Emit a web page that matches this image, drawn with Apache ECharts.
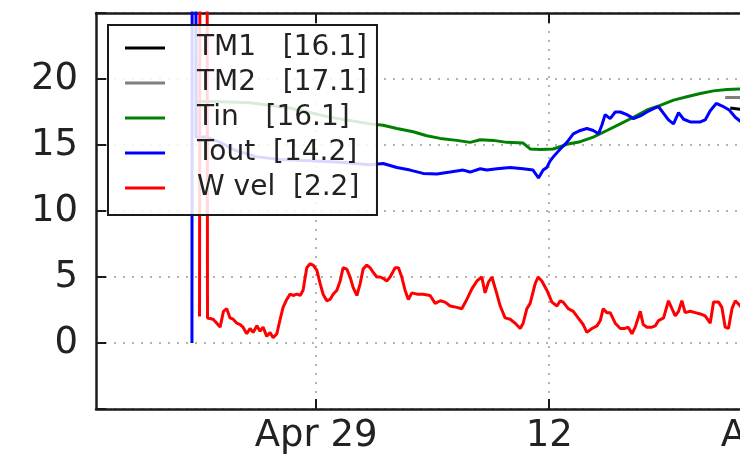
<!DOCTYPE html>
<html>
<head>
<meta charset="utf-8">
<script src="https://cdn.jsdelivr.net/npm/echarts@6/dist/echarts.min.js"></script>
<style>
html,body{margin:0;padding:0;background:#fff;overflow:hidden;}
#chart{width:740px;height:459px;}
</style>
</head>
<body>
<div id="chart"></div>
<script>
// time in hours since Apr 29 00:00
var seriesNames = ["TM1   [16.1]", "TM2   [17.1]", "Tin   [16.1]", "Tout  [14.2]", "W vel  [2.2]"];
var seriesColors = ["#000000", "#7f7f7f", "#008000", "#0000ff", "#ff0000"];
var xTickValues = [0, 12, 24];
var xTickLabels = ["Apr 29", "12", "Apr 30"];
var yTickValues = [0, 5, 10, 15, 20];

var tm1T = [21.32, 21.84, 22.35];
var tm1V = [17.8, 17.7, 17.6];
var tm2T = [21.06, 21.84, 22.35];
var tm2V = [18.6, 18.6, 18.6];

var tinT = [-6.18,-5.30,-3.40,-1.34,0.72,2.78,3.45,4.16,5.00,5.70,6.39,7.25,7.93,8.45,9.12,9.82,10.66,11.02,11.54,12.21,12.91,13.60,14.27,14.97,15.66,16.34,17.03,17.72,18.40,19.09,19.78,20.46,21.15,21.84,22.35];
var tinV = [18.3,18.3,18.2,17.8,17.1,16.6,16.5,16.25,16.0,15.7,15.5,15.35,15.2,15.4,15.35,15.2,15.15,14.7,14.65,14.7,15.05,15.25,15.6,16.1,16.6,17.1,17.65,18.0,18.4,18.65,18.9,19.1,19.2,19.25,19.3];

var toutT = [-6.39,-6.28,-6.18,-5.61,-4.94,-4.17,-3.04,-1.85,-0.31,1.24,2.78,3.45,4.16,4.84,5.51,6.22,6.90,7.57,7.93,8.45,8.79,9.31,9.99,10.66,11.17,11.45,11.69,11.88,12.05,12.21,12.57,12.91,13.24,13.60,13.94,14.27,14.54,14.71,14.88,15.14,15.40,15.66,16.00,16.34,16.69,17.03,17.37,17.63,17.89,18.14,18.40,18.66,18.92,19.26,19.78,20.03,20.29,20.60,20.91,21.27,21.58,21.84,22.15];
var toutV = [0,300,15.6,15.6,15.2,14.6,14.1,13.9,13.8,13.7,13.5,13.6,13.3,13.1,12.85,12.8,12.95,13.1,12.95,13.2,13.1,13.2,13.3,13.2,13.1,12.5,13.1,13.3,13.8,14.1,14.7,15.2,15.85,16.1,16.25,16.1,15.85,16.5,17.3,17.0,17.5,17.5,17.3,17.0,17.2,17.5,17.75,17.9,17.4,16.9,16.6,17.45,16.95,16.75,16.75,16.9,17.6,18.15,17.95,17.65,17.1,16.8,16.4];

var wvelT = [-6.00,-5.79,-5.59,-5.30,-5.11,-4.94,-4.77,-4.60,-4.43,-4.27,-4.08,-3.91,-3.76,-3.57,-3.40,-3.24,-3.05,-2.88,-2.73,-2.54,-2.37,-2.21,-2.02,-1.85,-1.70,-1.51,-1.34,-1.18,-0.99,-0.82,-0.67,-0.48,-0.31,-0.15,0.04,0.21,0.36,0.55,0.72,0.88,1.07,1.24,1.39,1.58,1.75,1.91,2.10,2.27,2.42,2.61,2.78,2.94,3.13,3.30,3.45,3.64,3.81,4.07,4.24,4.41,4.58,4.75,4.93,5.19,5.51,5.87,6.13,6.39,6.64,6.90,7.25,7.50,7.76,8.02,8.28,8.53,8.70,8.87,9.05,9.31,9.48,9.73,9.99,10.25,10.51,10.66,10.85,11.02,11.28,11.43,11.62,11.88,12.14,12.40,12.57,12.72,12.98,13.24,13.49,13.75,13.94,14.20,14.46,14.63,14.78,14.97,15.14,15.40,15.66,15.91,16.07,16.26,16.43,16.69,16.84,17.03,17.29,17.46,17.63,17.89,18.14,18.32,18.49,18.66,18.83,19.00,19.26,19.52,19.78,20.03,20.29,20.46,20.72,20.89,21.06,21.23,21.41,21.58,21.84,22.10];
var wvelV = [2.0,300,1.9,1.8,1.5,1.2,2.4,2.6,1.9,1.8,1.5,1.4,1.2,0.7,1.1,0.8,1.3,0.9,1.2,0.5,0.8,0.4,0.7,1.8,2.7,3.3,3.7,3.6,3.7,3.6,4.0,5.7,6.0,5.9,5.5,4.5,3.7,3.2,3.3,3.7,4.0,4.7,5.7,5.6,5.0,4.2,3.6,4.5,5.6,5.9,5.7,5.35,5.0,5.0,4.9,4.7,5.0,5.7,5.7,5.0,4.0,3.3,3.8,3.7,3.7,3.6,3.0,3.2,3.1,2.8,2.7,2.6,3.3,4.1,4.7,5.0,3.8,4.6,5.0,3.7,2.8,1.9,1.8,1.5,1.1,1.5,2.6,3.0,4.5,5.0,4.7,4.0,3.1,2.8,3.2,3.1,2.6,2.4,1.9,1.4,0.8,1.1,1.3,1.7,2.6,2.3,2.3,1.5,1.1,1.1,1.2,0.7,1.2,2.4,1.4,1.2,1.2,1.3,1.7,1.9,3.2,2.6,2.05,2.4,3.2,2.3,2.4,2.3,2.2,2.05,1.5,3.1,3.1,2.7,1.2,1.1,2.6,3.2,2.8,2.2];

function pairs(t, v) { return t.map(function (x, i) { return [x, v[i]]; }); }

var FONT = "DejaVu Sans";
var chart = echarts.init(document.getElementById('chart'), null, {renderer: 'canvas'});

var gridLine = {show: true, lineStyle: {color: '#9a9a9a', width: 1.5, type: [2, 7]}};
var spine = {show: true, onZero: false, lineStyle: {color: '#1a1a1a', width: 2.5}};

function mkSeries(name, data, color) {
  return {
    name: name, type: 'line', data: data, showSymbol: false, symbol: 'none',
    lineStyle: {color: color, width: 3}, itemStyle: {color: color},
    clip: true, animation: false
  };
}

chart.setOption({
  animation: false,
  backgroundColor: '#ffffff',
  grid: {left: 96, top: 13, bottom: 50, width: 696, containLabel: false, outerBoundsMode: 'none'},
  legend: {
    orient: 'vertical', left: 108, top: 25,
    padding: [8, 10, 12, 17],
    itemGap: 5, itemWidth: 40, itemHeight: 3,
    icon: 'rect',
    backgroundColor: 'rgba(255,255,255,0.85)',
    borderColor: '#1a1a1a', borderWidth: 2,
    textStyle: {fontFamily: FONT, fontSize: 28, color: '#222', lineHeight: 30, padding: [0, 0, 0, 27]},
    data: seriesNames
  },
  xAxis: [{
    type: 'value', min: -11.33, max: 24.5, position: 'bottom',
    axisLine: spine,
    axisTick: {show: true, inside: true, length: 10, lineStyle: {color: '#1a1a1a', width: 2}, customValues: xTickValues},
    axisLabel: {
      show: true, customValues: xTickValues, margin: 9,
      fontFamily: FONT, fontSize: 37, color: '#222',
      formatter: function (v) { var i = xTickValues.indexOf(v); return i >= 0 ? xTickLabels[i] : ''; }
    },
    splitLine: gridLine
  }, {
    type: 'value', min: -11.33, max: 24.5, position: 'top',
    axisLine: spine,
    axisTick: {show: true, inside: true, length: 10, lineStyle: {color: '#1a1a1a', width: 2}, customValues: xTickValues},
    axisLabel: {show: false},
    splitLine: {show: false}
  }],
  yAxis: [{
    type: 'value', min: -5, max: 25, interval: 5,
    axisLine: spine,
    axisTick: {show: true, inside: true, length: 10, lineStyle: {color: '#1a1a1a', width: 2}},
    axisLabel: {
      margin: 18, fontFamily: FONT, fontSize: 37, color: '#222',
      formatter: function (v) { return yTickValues.indexOf(v) >= 0 ? String(v) : ''; }
    },
    splitLine: gridLine
  }],
  series: [
    mkSeries(seriesNames[0], pairs(tm1T, tm1V), seriesColors[0]),
    mkSeries(seriesNames[1], pairs(tm2T, tm2V), seriesColors[1]),
    mkSeries(seriesNames[2], pairs(tinT, tinV), seriesColors[2]),
    mkSeries(seriesNames[3], pairs(toutT, toutV), seriesColors[3]),
    mkSeries(seriesNames[4], pairs(wvelT, wvelV), seriesColors[4])
  ]
});
</script>
</body>
</html>
